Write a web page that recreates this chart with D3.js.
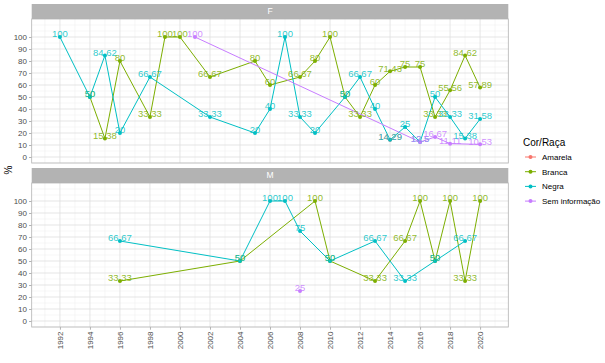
<!DOCTYPE html>
<html>
<head>
<meta charset="utf-8">
<script src="https://cdn.jsdelivr.net/npm/d3@7"></script>
<style>
  body{margin:0;background:#fff;}
  text{font-family:"Liberation Sans",Arial,sans-serif;}
</style>
</head>
<body>
<svg id="chart" width="605" height="363"></svg>
<script>
const groups=["Amarela","Branca","Negra","Sem informação"];
const colors=["#F8766D","#7CAE00","#00BFC4","#C77CFF"];
const panels=["F","M"];
const yearTicks=d3.range(1992,2021,2);
const pctTicks=d3.range(0,101,10);

// F panel
const fAmarela=[[2014,14.29]];
const fBranca=[[1994,50],[1995,15.38],[1996,80],[1998,33.33],[1999,100],[2000,100],[2002,66.67],[2005,80],[2006,60],[2008,66.67],[2009,80],[2010,100],[2011,50],[2012,33.33],[2013,60],[2014,71.43],[2015,75],[2016,75],[2017,33.33],[2018,55.56],[2019,84.62],[2020,57.89]];
const fNegra=[[1992,100],[1994,50],[1995,84.62],[1996,20],[1998,66.67],[2002,33.33],[2005,20],[2006,40],[2007,100],[2008,33.33],[2009,20],[2011,50],[2012,66.67],[2013,40],[2014,14.29],[2015,25],[2016,12.5],[2017,50],[2018,33.33],[2019,15.38],[2020,31.58]];
const fSemInfo=[[2001,100],[2016,12.5],[2017,16.67],[2018,11.11],[2020,10.53]];
// M panel
const mAmarela=[];
const mBranca=[[1996,33.33],[2004,50],[2009,100],[2010,50],[2013,33.33],[2015,66.67],[2016,100],[2017,50],[2018,100],[2019,33.33],[2020,100]];
const mNegra=[[1996,66.67],[2004,50],[2006,100],[2007,100],[2008,75],[2010,50],[2013,66.67],[2015,33.33],[2017,50],[2019,66.67]];
const mSemInfo=[[2008,25]];

const panelData={
  F:[fAmarela,fBranca,fNegra,fSemInfo],
  M:[mAmarela,mBranca,mNegra,mSemInfo]
};

const svg=d3.select("#chart");
const m={left:31.7,right:508.3};
const stripH=15;
const panelTop={F:4,M:168};
const panelH=144;

const x=d3.scaleLinear().domain([1990.12,2021.88]).range([m.left,m.right]);
const fmt=v=>String(+v.toFixed(2));

panels.forEach(p=>{
  const top=panelTop[p]+stripH, bottom=top+panelH;
  const y=d3.scaleLinear().domain([-5,115]).range([bottom,top]);
  const g=svg.append("g");

  // strip
  g.append("rect").attr("x",m.left).attr("y",panelTop[p]).attr("width",m.right-m.left).attr("height",stripH).attr("fill","#b3b3b3");
  g.append("text").attr("x",(m.left+m.right)/2).attr("y",panelTop[p]+stripH/2).attr("dy","0.35em")
    .attr("text-anchor","middle").attr("fill","#fff").attr("font-size","8.5px").text(p);

  // grid
  const minorY=d3.range(-5,106,10).concat([110]);
  const minorX=d3.range(1991,2022,2);
  g.selectAll(".gmy").data(minorY).join("line")
    .attr("x1",m.left).attr("x2",m.right).attr("y1",d=>y(d)).attr("y2",d=>y(d))
    .attr("stroke","#ececec").attr("stroke-width",0.5);
  g.selectAll(".gmx").data(minorX).join("line")
    .attr("y1",top).attr("y2",bottom).attr("x1",d=>x(d)).attr("x2",d=>x(d))
    .attr("stroke","#ececec").attr("stroke-width",0.5);
  g.selectAll(".gy").data(pctTicks).join("line")
    .attr("x1",m.left).attr("x2",m.right).attr("y1",d=>y(d)).attr("y2",d=>y(d))
    .attr("stroke","#dedede").attr("stroke-width",0.8);
  g.selectAll(".gx").data(yearTicks).join("line")
    .attr("y1",top).attr("y2",bottom).attr("x1",d=>x(d)).attr("x2",d=>x(d))
    .attr("stroke","#dedede").attr("stroke-width",0.8);

  g.append("rect").attr("x",m.left).attr("y",top).attr("width",m.right-m.left).attr("height",panelH)
    .attr("fill","none").attr("stroke","#b3b3b3").attr("stroke-width",0.8);

  // y axis
  const ya=g.append("g").attr("transform",`translate(${m.left},0)`)
    .call(d3.axisLeft(y).tickValues(pctTicks).tickSize(2.7).tickPadding(2));
  ya.select(".domain").remove();
  ya.selectAll(".tick line").attr("stroke","#b3b3b3");
  ya.selectAll(".tick text").attr("fill","#4d4d4d").attr("font-size","8px").attr("font-family","Liberation Sans, Arial, sans-serif");

  if(p==="M"){
    const xa=g.append("g").attr("transform",`translate(0,${bottom})`)
      .call(d3.axisBottom(x).tickValues(yearTicks).tickFormat(d3.format("d")).tickSize(2.7));
    xa.select(".domain").remove();
    xa.selectAll(".tick line").attr("stroke","#b3b3b3");
    xa.selectAll(".tick text").attr("fill","#4d4d4d").attr("font-size","8px").attr("font-family","Liberation Sans, Arial, sans-serif")
      .attr("transform","rotate(-90)").attr("text-anchor","end").attr("x",-4.5).attr("y",0).attr("dy","0.35em");
  }

  const line=d3.line().x(d=>x(d[0])).y(d=>y(d[1]));
  const series=panelData[p];
  series.forEach((s,i)=>{
    g.append("path").datum(s).attr("d",line).attr("fill","none").attr("stroke",colors[i]).attr("stroke-width",1);
  });
  series.forEach((s,i)=>{
    g.selectAll(null).data(s).join("circle")
      .attr("cx",d=>x(d[0])).attr("cy",d=>y(d[1])).attr("r",2).attr("fill",colors[i]);
  });
  series.forEach((s,i)=>{
    g.selectAll(null).data(s).join("text")
      .attr("x",d=>x(d[0])).attr("y",d=>y(d[1])-3).attr("dy","0.35em")
      .attr("text-anchor","middle").attr("font-size","9.5px").attr("fill",colors[i]).attr("fill-opacity",0.85)
      .text(d=>fmt(d[1]));
  });
});

// y title
svg.append("text").attr("transform","translate(8,170) rotate(-90)").attr("text-anchor","middle")
  .attr("dy","0.35em").attr("font-size","10px").attr("fill","#000").text("%");

// legend
const lg=svg.append("g").attr("transform","translate(523,0)");
lg.append("text").attr("x",0).attr("y",142).attr("dy","0.35em").attr("font-size","10px").attr("fill","#000").text("Cor/Raça");
groups.forEach((gname,i)=>{
  const cy=157+i*14.7;
  lg.append("line").attr("x1",2).attr("x2",13).attr("y1",cy).attr("y2",cy).attr("stroke",colors[i]).attr("stroke-width",1);
  lg.append("circle").attr("cx",7.5).attr("cy",cy).attr("r",2).attr("fill",colors[i]);
  lg.append("text").attr("x",19).attr("y",cy).attr("dy","0.35em").attr("font-size","8px").attr("fill","#000").text(gname);
});
</script>
</body>
</html>
